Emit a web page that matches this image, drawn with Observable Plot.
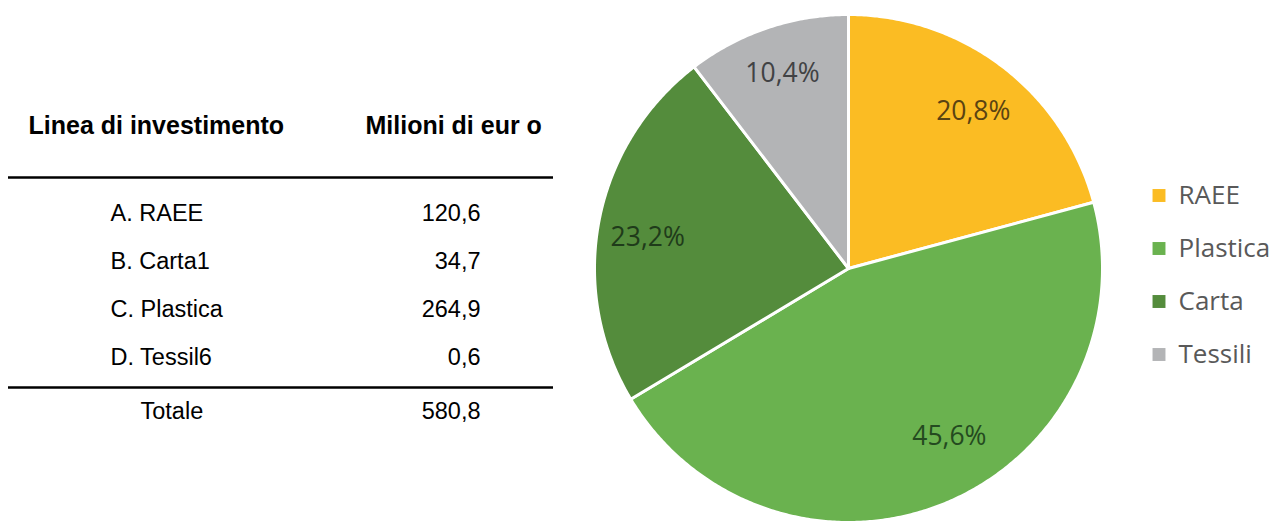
<!DOCTYPE html>
<html><head><meta charset="utf-8">
<script src="https://cdn.jsdelivr.net/npm/d3@7"></script>
<script src="https://cdn.jsdelivr.net/npm/@observablehq/plot@0.6"></script>
<style>body{margin:0;background:#fff}</style>
</head><body><div id="chart"></div>
<script>
// ---- data ----
const tableHeaders = ["Linea di investimento", "Milioni di eur o"];
const tableLabels = ["A. RAEE", "B. Carta1", "C. Plastica", "D. Tessil6"];
const tableValues = [120.6, 34.7, 264.9, 0.6];
const totalLabel = "Totale";
const totalValue = 580.8;

const pieCategories = ["RAEE", "Plastica", "Carta", "Tessili"];
const pieShares = [20.8, 45.6, 23.2, 10.4];
const pieColors = ["#FBBC23", "#6AB24F", "#548C3C", "#B3B4B6"];
const labelColors = ["#5a4312", "#244a20", "#1f3b1a", "#414244"];

// ---- layout ----
const W = 1276, H = 522;
const fmt = v => v.toFixed(1).replace(".", ",");
const cx = 848, cy = 268, R = 254;
const labelShift = {RAEE: 1, Plastica: -8, Carta: -2, Tessili: 0}; // degrees
const labelRad = {RAEE: 0.79, Plastica: 0.77, Carta: 0.8, Tessili: 0.81};

const arcs = d3.pie().sort(null).value(d => d.share)(
  pieCategories.map((c, i) => ({cat: c, share: pieShares[i], color: pieColors[i], lc: labelColors[i]}))
);
const slicePts = [];
arcs.forEach(a => {
  const n = Math.max(2, Math.ceil((a.endAngle - a.startAngle) / (Math.PI / 360)));
  slicePts.push({cat: a.data.cat, color: a.data.color, x: cx, y: cy});
  for (let k = 0; k <= n; k++) {
    const t = a.startAngle + (a.endAngle - a.startAngle) * k / n;
    slicePts.push({cat: a.data.cat, color: a.data.color, x: cx + R * Math.sin(t), y: cy - R * Math.cos(t)});
  }
  slicePts.push({cat: a.data.cat, color: a.data.color, x: cx, y: cy});
});
const pieLabels = arcs.map(a => {
  const t = (a.startAngle + a.endAngle) / 2 + labelShift[a.data.cat] * Math.PI / 180;
  const r = R * labelRad[a.data.cat];
  return {text: fmt(a.data.share) + "%", color: a.data.lc, x: cx + r * Math.sin(t), y: cy - r * Math.cos(t)};
});

const headerX = [28, 365];
const rowX = 110, valX = 480, rowY0 = 220, rowStep = 48;
const legX = 1158.5, legY0 = 195, legStep = 53;

const tableFont = "Liberation Sans, Arial, Helvetica, sans-serif";
const pieFont = "Open Sans, Noto Sans, sans-serif";

const chart = Plot.plot({
  width: W, height: H,
  margin: 0,
  x: {domain: [0, W], range: [0, W], axis: null},
  y: {domain: [0, H], range: [0, H], axis: null},
  color: {type: "identity"},
  style: {background: "white"},
  marks: [
    // table
    Plot.text(tableHeaders, {x: (d, i) => headerX[i], y: 133, text: d => d, textAnchor: "start", lineAnchor: "bottom",
      fontFamily: tableFont, fontWeight: "bold", fontSize: 25, fill: "#000"}),
    Plot.ruleY([177, 387], {y: d => d, x1: 8, x2: 553, stroke: "#000", strokeWidth: 2.6}),
    Plot.text(tableLabels, {x: rowX, y: (d, i) => rowY0 + i * rowStep, text: d => d, textAnchor: "start", lineAnchor: "bottom",
      fontFamily: tableFont, fontSize: 23.5, fill: "#000"}),
    Plot.text(tableValues, {x: valX, y: (d, i) => rowY0 + i * rowStep, text: d => fmt(d), textAnchor: "end", lineAnchor: "bottom",
      fontFamily: tableFont, fontSize: 23.5, fill: "#000"}),
    Plot.text([totalLabel], {x: 140, y: 418, text: d => d, textAnchor: "start", lineAnchor: "bottom",
      fontFamily: tableFont, fontSize: 23.5, fill: "#000"}),
    Plot.text([totalValue], {x: valX, y: 418, text: d => fmt(d), textAnchor: "end", lineAnchor: "bottom",
      fontFamily: tableFont, fontSize: 23.5, fill: "#000"}),
    // pie
    Plot.line(slicePts, {x: "x", y: "y", z: "cat", fill: "color", stroke: "white", strokeWidth: 3, strokeLinejoin: "round", curve: "linear"}),
    Plot.text(pieLabels, {x: "x", y: "y", text: "text", fill: "color", fontFamily: pieFont, fontSize: 26.5, textAnchor: "middle"}),
    // legend
    Plot.dot(pieCategories, {x: legX, y: (d, i) => legY0 + i * legStep, symbol: "square", r: 7.3, fill: (d, i) => pieColors[i], stroke: null}),
    Plot.text(pieCategories, {x: legX + 19.5, y: (d, i) => legY0 + i * legStep, text: d => d, textAnchor: "start",
      fontFamily: pieFont, fontSize: 26, fill: "#595959"})
  ]
});
document.getElementById("chart").appendChild(chart);
</script>
</body></html>
